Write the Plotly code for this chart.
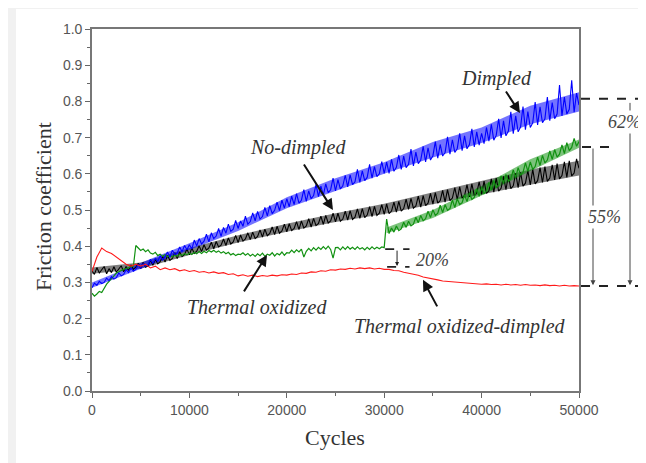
import plotly.graph_objects as go

# x positions (cycles)
cycles = list(range(0, 50001, 250))
red_cycles = list(range(0, 50001, 500))

dimpled = [
    0.285, 0.298, 0.292, 0.303, 0.297, 0.300, 0.312, 0.305, 0.316, 0.309,
    0.313, 0.326, 0.318, 0.322, 0.335, 0.327, 0.340, 0.331, 0.336, 0.349,
    0.339, 0.352, 0.345, 0.348, 0.364, 0.352, 0.366, 0.358, 0.374, 0.362,
    0.371, 0.384, 0.370, 0.389, 0.377, 0.381, 0.398, 0.385, 0.402, 0.390,
    0.404,
    0.392, 0.417, 0.401, 0.421, 0.406, 0.414, 0.433, 0.412, 0.437, 0.421,
    0.428, 0.449, 0.427, 0.452, 0.436, 0.461, 0.441, 0.447, 0.471, 0.449,
    0.470, 0.455, 0.483, 0.461, 0.468, 0.492, 0.470, 0.496, 0.475, 0.482,
    0.507, 0.484, 0.512, 0.490, 0.499, 0.522, 0.498, 0.527, 0.505, 0.531,
    0.509, 0.538, 0.515, 0.545, 0.519, 0.527, 0.556, 0.524, 0.553, 0.531,
    0.540, 0.571, 0.537, 0.566, 0.541, 0.572, 0.548, 0.556, 0.588, 0.553,
    0.584, 0.558, 0.567, 0.596, 0.564, 0.597, 0.570, 0.578, 0.612, 0.576,
    0.608, 0.581, 0.590, 0.626, 0.588, 0.620, 0.592, 0.600, 0.634, 0.601,
    0.632, 0.601, 0.640, 0.607, 0.618, 0.652, 0.612, 0.649, 0.617, 0.626,
    0.668, 0.622, 0.660, 0.628, 0.638, 0.676, 0.633, 0.672, 0.638, 0.650,
    0.689, 0.643, 0.681, 0.649, 0.659, 0.702, 0.654, 0.694, 0.659, 0.670,
    0.712, 0.664, 0.705, 0.669, 0.681, 0.724, 0.674, 0.716, 0.679, 0.712,
    0.683, 0.728, 0.690, 0.737, 0.693, 0.706, 0.752, 0.699, 0.746, 0.705,
    0.718, 0.771, 0.711, 0.760, 0.716, 0.729, 0.786, 0.722, 0.772, 0.728,
    0.741, 0.798, 0.735, 0.785, 0.741, 0.752, 0.812, 0.747, 0.797, 0.752,
    0.765, 0.845, 0.760, 0.812, 0.765, 0.778, 0.858, 0.770, 0.823, 0.790,
]

no_dimpled = [
    0.332, 0.322, 0.341, 0.326, 0.335, 0.344, 0.324, 0.338, 0.327, 0.343,
    0.328, 0.339, 0.346, 0.329, 0.344, 0.333, 0.348, 0.336, 0.342, 0.353,
    0.338, 0.355, 0.342, 0.346, 0.362, 0.347, 0.364, 0.351, 0.357, 0.372,
    0.356, 0.374, 0.361, 0.366, 0.382, 0.366, 0.384, 0.371, 0.377, 0.392,
    0.376, 0.395, 0.380, 0.386, 0.401, 0.385, 0.404, 0.389, 0.395, 0.411,
    0.393, 0.413, 0.398, 0.403, 0.420, 0.402, 0.423, 0.406, 0.412, 0.430,
    0.410, 0.431, 0.414, 0.420, 0.437, 0.418, 0.439, 0.421, 0.427, 0.445,
    0.425, 0.447, 0.429, 0.435, 0.453, 0.432, 0.455, 0.436, 0.442, 0.461,
    0.440, 0.462, 0.443, 0.449, 0.468, 0.446, 0.470, 0.450, 0.456, 0.476,
    0.453, 0.477, 0.457, 0.463, 0.483, 0.460, 0.485, 0.464, 0.470, 0.491,
    0.467, 0.491, 0.469, 0.475, 0.497, 0.472, 0.498, 0.474, 0.480, 0.503,
    0.477, 0.504, 0.479, 0.486, 0.509, 0.482, 0.510, 0.485, 0.491, 0.515,
    0.488, 0.517, 0.490, 0.497, 0.522, 0.494, 0.524, 0.497, 0.504, 0.530,
    0.502, 0.532, 0.505, 0.511, 0.538, 0.508, 0.540, 0.512, 0.519, 0.546,
    0.516, 0.548, 0.519, 0.526, 0.554, 0.522, 0.556, 0.526, 0.533, 0.562,
    0.529, 0.564, 0.533, 0.540, 0.570, 0.536, 0.572, 0.540, 0.547, 0.578,
    0.543, 0.580, 0.546, 0.553, 0.586, 0.549, 0.588, 0.552, 0.560, 0.593,
    0.556, 0.596, 0.559, 0.567, 0.601, 0.562, 0.604, 0.566, 0.574, 0.609,
    0.569, 0.612, 0.572, 0.581, 0.617, 0.576, 0.620, 0.579, 0.588, 0.625,
    0.583, 0.628, 0.586, 0.595, 0.633, 0.590, 0.636, 0.594, 0.602, 0.641,
    0.615,
]

thermal_oxidized = [
    0.270, 0.262, 0.268, 0.275, 0.272, 0.285, 0.295, 0.303, 0.312, 0.318,
    0.326, 0.330, 0.333, 0.336, 0.338, 0.340, 0.342, 0.345,
    0.402, 0.395, 0.388, 0.392, 0.385, 0.390, 0.381, 0.378, 0.383, 0.374,
    0.378, 0.372, 0.377, 0.371, 0.375, 0.370, 0.376, 0.372, 0.378, 0.374,
    0.380, 0.376, 0.381,
    0.377, 0.383, 0.379, 0.385, 0.380, 0.386, 0.382, 0.388, 0.384, 0.389,
    0.383, 0.387, 0.381, 0.385, 0.379, 0.383, 0.376, 0.380, 0.374, 0.378,
    0.377, 0.382, 0.375, 0.380, 0.373, 0.378, 0.372, 0.379, 0.374, 0.381,
    0.372, 0.378, 0.375, 0.382, 0.373, 0.380, 0.376, 0.384, 0.375, 0.382,
    0.381, 0.389, 0.382, 0.390, 0.384, 0.392, 0.370, 0.386, 0.394, 0.387,
    0.396, 0.389, 0.397, 0.391, 0.399, 0.392, 0.400, 0.391, 0.367, 0.396,
    0.397, 0.390, 0.398, 0.391, 0.399, 0.392, 0.397, 0.391, 0.398, 0.392,
    0.396, 0.390, 0.397, 0.391, 0.398, 0.392, 0.397, 0.393, 0.398, 0.396,
    0.475, 0.435, 0.450, 0.439, 0.456, 0.443, 0.448, 0.466, 0.452, 0.469,
    0.456, 0.461, 0.480, 0.465, 0.485, 0.470, 0.476, 0.497, 0.479, 0.501,
    0.485, 0.491, 0.513, 0.493, 0.515, 0.499, 0.504, 0.528, 0.507, 0.531,
    0.515, 0.520, 0.542, 0.523, 0.547, 0.529, 0.535, 0.559, 0.538, 0.564,
    0.545, 0.552, 0.576, 0.555, 0.581, 0.562, 0.569, 0.594, 0.573, 0.598,
    0.579, 0.586, 0.611, 0.589, 0.617, 0.597, 0.604, 0.630, 0.607, 0.633,
    0.612, 0.620, 0.646, 0.623, 0.651, 0.630, 0.638, 0.663, 0.640, 0.667,
    0.646, 0.654, 0.680, 0.656, 0.686, 0.664, 0.673, 0.698, 0.676, 0.689,
]

thermal_oxidized_dimpled = [
    0.33, 0.37, 0.395, 0.385, 0.38, 0.37, 0.36, 0.35, 0.345, 0.35,
    0.345, 0.35, 0.34, 0.345, 0.335, 0.34, 0.335, 0.338, 0.332, 0.335,
    0.33, 0.333, 0.328, 0.33, 0.326, 0.329, 0.325, 0.327, 0.322, 0.324,
    0.318, 0.321, 0.317, 0.32, 0.316, 0.319, 0.317, 0.32, 0.318, 0.321,
    0.32, 0.323, 0.322, 0.326, 0.325, 0.329, 0.328, 0.332, 0.331, 0.335,
    0.334, 0.337, 0.336, 0.339, 0.337, 0.34, 0.338, 0.34, 0.337, 0.339,
    0.336, 0.336, 0.333, 0.332, 0.328, 0.326, 0.322, 0.32, 0.315, 0.313,
    0.309, 0.307, 0.304, 0.303, 0.30, 0.30, 0.298, 0.298, 0.296, 0.297,
    0.295, 0.296, 0.294, 0.295, 0.293, 0.295, 0.293, 0.294, 0.292, 0.294,
    0.292, 0.293, 0.291, 0.293, 0.291, 0.292, 0.29, 0.292, 0.29, 0.291,
    0.29,
]

# noise-band envelopes
env_cycles = [0, 5000, 10000, 15000, 20000, 25000, 30000, 35000, 40000, 45000, 50000]
dimpled_low = [0.285, 0.338, 0.390, 0.442, 0.505, 0.553, 0.600, 0.645, 0.685, 0.737, 0.772]
dimpled_high = [0.300, 0.354, 0.408, 0.466, 0.535, 0.588, 0.632, 0.688, 0.728, 0.788, 0.825]
no_dimpled_low = [0.324, 0.338, 0.376, 0.410, 0.440, 0.467, 0.489, 0.516, 0.544, 0.570, 0.595]
no_dimpled_high = [0.341, 0.355, 0.395, 0.430, 0.462, 0.491, 0.517, 0.548, 0.580, 0.612, 0.636]
oxid_env_cycles = [30250, 35000, 40000, 45000, 50000]
oxid_low = [0.436, 0.478, 0.540, 0.608, 0.672]
oxid_high = [0.452, 0.500, 0.566, 0.640, 0.695]

x_ticks = [0, 10000, 20000, 30000, 40000, 50000]
y_ticks = [0.0, 0.1, 0.2, 0.3, 0.4, 0.5, 0.6, 0.7, 0.8, 0.9, 1.0]

SERIF = "Liberation Serif, Times New Roman, serif"
SANS = "Liberation Sans, Arial, sans-serif"

fig = go.Figure()

def band(xs, lo, hi, color):
    fig.add_trace(go.Scatter(x=xs, y=lo, mode="lines", line=dict(width=0), hoverinfo="skip"))
    fig.add_trace(go.Scatter(x=xs, y=hi, mode="lines", line=dict(width=0), fill="tonexty",
                             fillcolor=color, hoverinfo="skip"))

band(env_cycles, no_dimpled_low, no_dimpled_high, "rgba(0,0,0,0.50)")
band(oxid_env_cycles, oxid_low, oxid_high, "rgba(17,145,17,0.55)")
band(env_cycles, dimpled_low, dimpled_high, "rgba(0,0,255,0.55)")

fig.add_trace(go.Scatter(x=cycles, y=no_dimpled, mode="lines", line=dict(color="#000000", width=1.1), name="No-dimpled"))
fig.add_trace(go.Scatter(x=cycles, y=thermal_oxidized, mode="lines", line=dict(color="#119111", width=1.2), name="Thermal oxidized"))
fig.add_trace(go.Scatter(x=cycles, y=dimpled, mode="lines", line=dict(color="#0000ff", width=1.1), name="Dimpled"))
fig.add_trace(go.Scatter(x=red_cycles, y=thermal_oxidized_dimpled, mode="lines", line=dict(color="#ff1a1a", width=1.1), name="Thermal oxidized-dimpled"))

axis_common = dict(
    showgrid=False, zeroline=False, showline=True, linecolor="#777777", linewidth=1.6,
    mirror=True, ticks="outside", ticklen=5, tickwidth=1.4, tickcolor="#666666",
    tickfont=dict(family=SANS, size=14, color="#555555"),
)
fig.update_xaxes(range=[0, 50000], tickvals=x_ticks, ticktext=[str(v) for v in x_ticks],
                 minor=dict(dtick=5000, ticklen=3, ticks="outside", tickcolor="#666666", tickwidth=1.4),
                 **axis_common)
fig.update_yaxes(range=[0, 1.0], tickvals=y_ticks, ticktext=["%.1f" % v for v in y_ticks],
                 minor=dict(dtick=0.05, ticklen=3, ticks="outside", tickcolor="#666666", tickwidth=1.4),
                 **axis_common)

# page-pixel geometry of the plot area (page has an 8px body margin)
OFF = 8
W, H = 646 - OFF, 463 - OFF
L, R, T, B = 92, 579, 29, 391
def px(p):
    return (p - L) / (R - L)
def py(p):
    return (B - p) / (B - T)

shapes = [
    dict(type="rect", xref="paper", yref="paper", x0=px(16), x1=px(660), y0=py(9), y1=py(470),
         fillcolor="white", line=dict(width=0), layer="below"),
    dict(type="line", xref="x", yref="y", x0=30100, x1=32600, y0=0.392, y1=0.392,
         line=dict(color="#222222", width=1.8, dash="dash")),
    dict(type="line", xref="x", yref="y", x0=30300, x1=32600, y0=0.343, y1=0.343,
         line=dict(color="#222222", width=1.8, dash="dash")),
    dict(type="line", xref="paper", yref="paper", x0=px(581), x1=px(646), y0=0.807, y1=0.807,
         line=dict(color="#222222", width=2, dash="dash")),
    dict(type="line", xref="paper", yref="paper", x0=px(582), x1=px(610), y0=0.674, y1=0.674,
         line=dict(color="#222222", width=2, dash="dash")),
    dict(type="line", xref="paper", yref="paper", x0=px(581), x1=px(646), y0=0.29, y1=0.29,
         line=dict(color="#222222", width=2, dash="dash")),
]

ann = []
label_font = dict(family=SERIF, size=20, color="#333333")
def label(text, x, y):
    ann.append(dict(text="<i>%s</i>" % text, x=x, y=y, xref="x", yref="y", showarrow=False,
                    xanchor="center", yanchor="middle", font=label_font))
def arrow(x, y, ax, ay):
    ann.append(dict(text="", x=x, y=y, xref="x", yref="y", ax=ax, ay=ay, showarrow=True,
                    arrowhead=2, arrowsize=1.1, arrowwidth=2, arrowcolor="#111111"))

label("Dimpled", 41580, 0.862)
arrow(43940, 0.768, -15, -23)
label("No-dimpled", 21150, 0.674)
arrow(24740, 0.50, -30, -47)
label("Thermal oxidized", 16940, 0.232)
arrow(17970, 0.376, -24, 38)
label("Thermal oxidized-dimpled", 37780, 0.177)
arrow(33980, 0.307, 15, 28)

ann.append(dict(text="", x=31320, y=0.345, xref="x", yref="y", ax=0, ay=-17, showarrow=True,
                arrowhead=2, arrowsize=0.8, arrowwidth=1, arrowcolor="#222222"))
ann.append(dict(text="<i>20%</i>", x=35000, y=0.362, xref="x", yref="y", showarrow=False,
                xanchor="center", yanchor="middle",
                font=dict(family=SERIF, size=18, color="#444444")))

ann.append(dict(text="", x=px(593), y=0.292, xref="paper", yref="paper", ax=0, ay=-(0.674 - 0.292) * (B - T),
                showarrow=True, arrowhead=2, arrowsize=1, arrowwidth=1, arrowcolor="#444444"))
ann.append(dict(text="", x=px(630), y=0.292, xref="paper", yref="paper", ax=0, ay=-(0.80 - 0.292) * (B - T),
                showarrow=True, arrowhead=2, arrowsize=1, arrowwidth=1, arrowcolor="#444444"))
ann.append(dict(text="<i>55%</i>", x=px(604), y=0.481, xref="paper", yref="paper", showarrow=False,
                xanchor="center", yanchor="middle", bgcolor="white",
                font=dict(family=SERIF, size=18, color="#444444")))
ann.append(dict(text="<i>62%</i>", x=px(624), y=0.743, xref="paper", yref="paper", showarrow=False,
                xanchor="center", yanchor="middle", bgcolor="white",
                font=dict(family=SERIF, size=18, color="#444444")))

ann.append(dict(text="Friction coefficient", x=px(43), y=py(207), xref="paper", yref="paper",
                xanchor="center", yanchor="middle",
                textangle=-90, showarrow=False, font=dict(family=SERIF, size=22, color="#333333")))
ann.append(dict(text="Cycles", x=px(335), y=py(437), xref="paper", yref="paper",
                xanchor="center", yanchor="middle",
                showarrow=False, font=dict(family=SERIF, size=22, color="#333333")))

fig.update_layout(
    width=W, height=H,
    margin=dict(l=L - OFF, r=W - (R - OFF), t=T - OFF, b=H - (B - OFF)),
    paper_bgcolor="#f1f1f1", plot_bgcolor="white",
    showlegend=False, shapes=shapes, annotations=ann,
)

fig.write_html("out.html")
